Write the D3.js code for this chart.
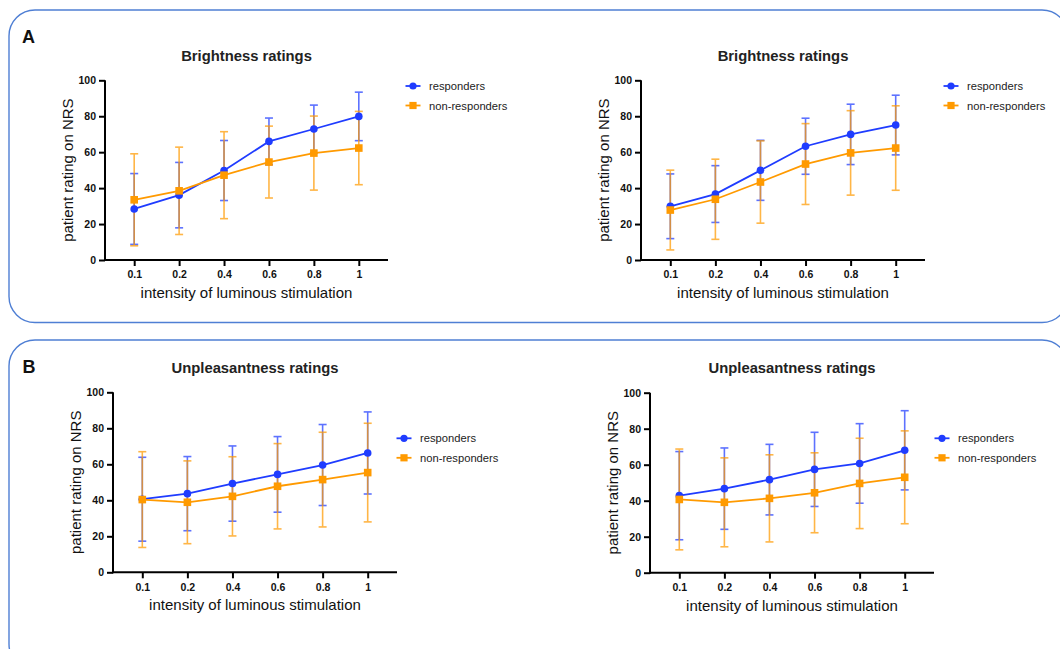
<!DOCTYPE html>
<html>
<head>
<meta charset="utf-8">
<script src="https://cdn.jsdelivr.net/npm/d3@7"></script>
<style>
  html, body { margin: 0; padding: 0; background: #ffffff; }
  svg { display: block; font-family: "Liberation Sans", Arial, Helvetica, sans-serif; }
</style>
</head>
<body>
<svg id="fig" width="1060" height="649"></svg>
<script>
// Stimulation intensities (categorical x axis) and y ticks
const intensities = ["0.1", "0.2", "0.4", "0.6", "0.8", "1"];
const yTicks = [0, 20, 40, 60, 80, 100];
const seriesNames = ["responders", "non-responders"];

// Brightness ratings, left chart: mean and SD
const brightLeftResp     = [28.4, 36.1, 49.8, 66.0, 72.9, 79.9];
const brightLeftRespSD   = [19.7, 18.2, 16.7, 13.0, 13.3, 13.5];
const brightLeftNon      = [33.5, 38.5, 47.2, 54.5, 59.5, 62.3];
const brightLeftNonSD    = [25.6, 24.3, 24.2, 20.0, 20.6, 20.4];

// Brightness ratings, right chart
const brightRightResp    = [29.9, 36.7, 49.9, 63.3, 69.9, 75.1];
const brightRightRespSD  = [18.0, 15.8, 16.7, 15.6, 16.8, 16.6];
const brightRightNon     = [27.8, 33.8, 43.4, 53.4, 59.6, 62.3];
const brightRightNonSD   = [22.2, 22.3, 22.9, 22.5, 23.5, 23.5];

// Unpleasantness ratings, left chart
const unplLeftResp       = [40.6, 43.7, 49.3, 54.4, 59.6, 66.3];
const unplLeftRespSD     = [23.3, 20.6, 20.9, 21.0, 22.5, 22.8];
const unplLeftNon        = [40.4, 38.9, 42.2, 47.8, 51.5, 55.4];
const unplLeftNonSD      = [26.6, 23.0, 22.0, 23.7, 26.3, 27.4];

// Unpleasantness ratings, right chart
const unplRightResp      = [42.8, 46.7, 51.7, 57.4, 60.7, 68.0];
const unplRightRespSD    = [24.5, 22.6, 19.6, 20.6, 22.1, 22.0];
const unplRightNon       = [40.7, 39.1, 41.3, 44.4, 49.6, 53.0];
const unplRightNonSD     = [28.0, 24.7, 24.2, 22.2, 25.1, 25.8];

const COLORS = ["#1f3cff", "#ff9a00"];

const svg = d3.select("#fig");

// Rounded frames around the two figure parts
const frames = [
  { x: 9, y: 10, w: 1059, h: 312.5, label: "A", lx: 22, ly: 43 },
  { x: 9, y: 340, w: 1059, h: 330, label: "B", lx: 22.5, ly: 372.5 }
];
frames.forEach(f => {
  svg.append("rect")
    .attr("x", f.x).attr("y", f.y).attr("width", f.w).attr("height", f.h)
    .attr("rx", 26).attr("ry", 26)
    .attr("fill", "none").attr("stroke", "#4f7fd4").attr("stroke-width", 1.4);
  svg.append("text").attr("x", f.lx).attr("y", f.ly)
    .attr("font-size", 18).attr("font-weight", "bold").attr("fill", "#111")
    .text(f.label);
});

const charts = [
  { title: "Brightness ratings", x0: 105, x1: 388, top: 80.3, bottom: 260,
    legX: 413, legY: 86,
    resp: brightLeftResp, respSD: brightLeftRespSD, non: brightLeftNon, nonSD: brightLeftNonSD },
  { title: "Brightness ratings", x0: 641, x1: 925, top: 80.3, bottom: 260,
    legX: 951, legY: 86,
    resp: brightRightResp, respSD: brightRightRespSD, non: brightRightNon, nonSD: brightRightNonSD },
  { title: "Unpleasantness ratings", x0: 113, x1: 397, top: 392.3, bottom: 572.3,
    legX: 404, legY: 438.3,
    resp: unplLeftResp, respSD: unplLeftRespSD, non: unplLeftNon, nonSD: unplLeftNonSD },
  { title: "Unpleasantness ratings", x0: 650, x1: 934, top: 392.7, bottom: 572.7,
    legX: 942, legY: 438.3,
    resp: unplRightResp, respSD: unplRightRespSD, non: unplRightNon, nonSD: unplRightNonSD }
];

charts.forEach(c => {
  const g = svg.append("g");
  const x = d3.scalePoint().domain(intensities).range([c.x0, c.x1]).padding(0.65);
  const y = d3.scaleLinear().domain([0, 100]).range([c.bottom, c.top]);

  // Axes
  const xAxis = g.append("g").attr("transform", `translate(0,${c.bottom})`)
    .call(d3.axisBottom(x).tickSize(6).tickPadding(5));
  const yAxis = g.append("g").attr("transform", `translate(${c.x0},0)`)
    .call(d3.axisLeft(y).tickValues(yTicks).tickSize(6).tickPadding(3));
  [xAxis, yAxis].forEach(a => {
    a.select(".domain").attr("stroke", "#000").attr("stroke-width", 2);
    a.selectAll(".tick line").attr("stroke", "#000").attr("stroke-width", 2);
    a.selectAll(".tick text").attr("fill", "#111").attr("font-size", 10.5)
      .attr("font-weight", "bold").attr("font-family", "Liberation Sans, Arial, sans-serif");
  });
  // axis lines: x runs from the y axis to the right end, y spans 0..100
  xAxis.select(".domain").attr("d", `M${c.x0},0H${c.x1}`);
  yAxis.select(".domain").attr("d", `M0,${y(100)}V${y(0) + 1}`);

  // Title and axis labels
  const cx = (c.x0 + c.x1) / 2;
  g.append("text").attr("x", cx).attr("y", c.top - 19.5).attr("text-anchor", "middle")
    .attr("font-size", 14.8).attr("font-weight", "bold").attr("fill", "#222").text(c.title);
  g.append("text").attr("x", cx).attr("y", c.bottom + 38).attr("text-anchor", "middle")
    .attr("font-size", 15).attr("fill", "#111").text("intensity of luminous stimulation");
  g.append("text")
    .attr("transform", `translate(${c.x0 - 32.5},${(c.top + c.bottom) / 2}) rotate(-90)`)
    .attr("text-anchor", "middle").attr("font-size", 15).attr("fill", "#111")
    .text("patient rating on NRS");

  const series = [
    { mean: c.resp, sd: c.respSD, color: COLORS[0], shape: "circle" },
    { mean: c.non, sd: c.nonSD, color: COLORS[1], shape: "square" }
  ];

  // Error bars (mean ± SD) with caps
  series.forEach(s => {
    const eb = g.append("g").attr("opacity", 0.72);
    intensities.forEach((k, i) => {
      const px = x(k), hi = y(s.mean[i] + s.sd[i]), lo = y(s.mean[i] - s.sd[i]);
      eb.append("line").attr("x1", px).attr("x2", px).attr("y1", hi).attr("y2", lo)
        .attr("stroke", s.color).attr("stroke-width", 1.6);
      [hi, lo].forEach(v => eb.append("line").attr("x1", px - 4).attr("x2", px + 4)
        .attr("y1", v).attr("y2", v).attr("stroke", s.color).attr("stroke-width", 1.6));
    });
  });

  // Lines and markers
  series.forEach(s => {
    const line = d3.line().x((d, i) => x(intensities[i])).y(d => y(d));
    g.append("path").attr("d", line(s.mean)).attr("fill", "none")
      .attr("stroke", s.color).attr("stroke-width", 1.8);
    s.mean.forEach((v, i) => {
      if (s.shape === "circle") {
        g.append("circle").attr("cx", x(intensities[i])).attr("cy", y(v)).attr("r", 3.8)
          .attr("fill", s.color);
      } else {
        g.append("rect").attr("x", x(intensities[i]) - 3.8).attr("y", y(v) - 3.8)
          .attr("width", 7.6).attr("height", 7.6).attr("fill", s.color);
      }
    });
  });

  // Legend
  series.forEach((s, i) => {
    const ly = c.legY + i * 19.5;
    g.append("line").attr("x1", c.legX - 7.5).attr("x2", c.legX + 7.5)
      .attr("y1", ly).attr("y2", ly).attr("stroke", s.color).attr("stroke-width", 1.8);
    if (s.shape === "circle") {
      g.append("circle").attr("cx", c.legX).attr("cy", ly).attr("r", 3.6).attr("fill", s.color);
    } else {
      g.append("rect").attr("x", c.legX - 3.6).attr("y", ly - 3.6)
        .attr("width", 7.2).attr("height", 7.2).attr("fill", s.color);
    }
    g.append("text").attr("x", c.legX + 16).attr("y", ly + 4).attr("font-size", 11.2)
      .attr("fill", "#222").text(seriesNames[i]);
  });
});
</script>
</body>
</html>
